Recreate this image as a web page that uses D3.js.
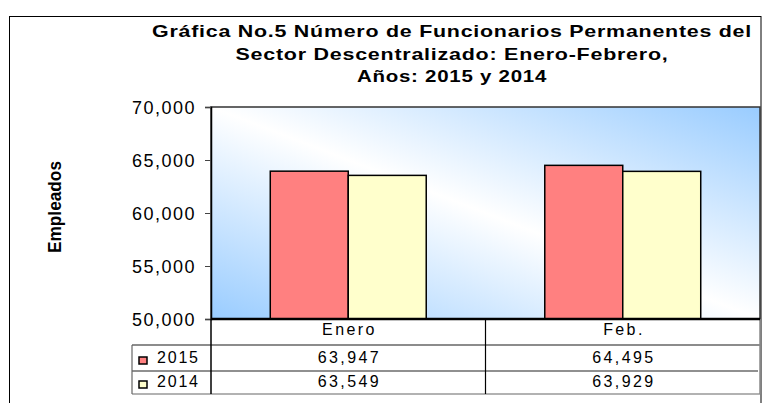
<!DOCTYPE html>
<html>
<head>
<meta charset="utf-8">
<script src="https://cdn.jsdelivr.net/npm/d3@7"></script>
<style>
  body { margin: 0; background: #fff; }
  text { font-family: Arial, "Liberation Sans", sans-serif; fill: #000; }
</style>
</head>
<body>
<div id="chart"></div>
<script>
// data
const categories = ["Enero", "Feb."]
const seriesNames = ["2015", "2014"]
const values2015 = [63947, 64495]
const values2014 = [63549, 63929]
const yTicks = [50000, 55000, 60000, 65000, 70000]
const titleLines = [
  "Gráfica No.5 Número de Funcionarios Permanentes del",
  "Sector Descentralizado: Enero-Febrero,",
  "Años: 2015 y 2014"
]
const yTitle = "Empleados"

const colors = { "2015": "#FF8080", "2014": "#FFFFCC" }

// plot box
const PLOT = { LEFT: 211, RIGHT: 760, TOP: 107, BOTTOM: 319 }
// table rows (header, 2015, 2014)
const ROW_Y = [319, 345, 371, 394]
const LEGEND_LEFT = 132

const svg = d3.select("#chart")
  .append("svg")
  .attr("width", 766)
  .attr("height", 403)

// outer chart frame
svg.append("rect")
  .attr("x", 9.5).attr("y", 16.5)
  .attr("width", 751.5).attr("height", 400)
  .attr("fill", "#fff")
  .attr("stroke", "#000")
  .attr("stroke-width", 1)

// title - excel draws it wide, so stretch glyphs a bit
const titleBox = [
  { y: 37, w: 600 },
  { y: 60, w: 433 },
  { y: 82, w: 190 }
]
titleLines.forEach((t, i) => {
  svg.append("text")
    .attr("x", 452 - titleBox[i].w / 2)
    .attr("y", titleBox[i].y)
    .attr("textLength", titleBox[i].w)
    .attr("lengthAdjust", "spacingAndGlyphs")
    .style("font-size", "17px")
    .style("font-weight", "bold")
    .style("letter-spacing", "0.6px")
    .text(t)
})

// background gradient of the plot area
const defs = svg.append("defs")
const grad = defs.append("linearGradient")
  .attr("id", "plotBg")
  .attr("x1", 0).attr("y1", 1)
  .attr("x2", 1).attr("y2", 0)
grad.append("stop").attr("offset", "0%").attr("stop-color", "#99CCFF")
grad.append("stop").attr("offset", "50%").attr("stop-color", "#FFFFFF")
grad.append("stop").attr("offset", "100%").attr("stop-color", "#99CCFF")

svg.append("rect")
  .attr("x", PLOT.LEFT).attr("y", PLOT.TOP)
  .attr("width", PLOT.RIGHT - PLOT.LEFT)
  .attr("height", PLOT.BOTTOM - PLOT.TOP)
  .attr("fill", "url(#plotBg)")
  .attr("stroke", "#333")
  .attr("stroke-width", 1.5)

// scales
const y = d3.scaleLinear()
  .domain([50000, 70000])
  .range([PLOT.BOTTOM, PLOT.TOP])

const x0 = d3.scaleBand()
  .domain(categories)
  .range([PLOT.LEFT, PLOT.RIGHT])

const x1 = d3.scaleBand()
  .domain(seriesNames)
  .range([0, x0.bandwidth()])
  .paddingOuter(0.76)

const series = [
  { name: "2015", values: values2015 },
  { name: "2014", values: values2014 }
]

// bars
series.forEach(s => {
  svg.append("g")
    .selectAll("rect")
    .data(s.values)
    .enter().append("rect")
    .attr("x", (d, i) => x0(categories[i]) + x1(s.name))
    .attr("y", d => y(d))
    .attr("width", x1.bandwidth())
    .attr("height", d => y(50000) - y(d))
    .attr("fill", colors[s.name])
    .attr("stroke", "#000")
    .attr("stroke-width", 1.5)
})

// y axis
const yAxisCall = d3.axisLeft(y)
  .tickValues(yTicks)
  .tickFormat(d3.format(","))
  .tickSize(6)
  .tickPadding(9)
const yAxis = svg.append("g")
  .attr("transform", "translate(" + PLOT.LEFT + ",0)")
  .call(yAxisCall)
yAxis.select(".domain").attr("stroke", "#000").attr("stroke-width", 1.5)
yAxis.selectAll(".tick line").attr("stroke", "#444")
yAxis.selectAll(".tick text")
  .attr("dy", "0.36em")
  .style("font-size", "18px")
  .style("font-family", "Arial, 'Liberation Sans', sans-serif")
  .style("letter-spacing", "1.5px")
  .attr("fill", "#000")

// y title
svg.append("text")
  .attr("transform", "translate(61,207) rotate(-90)")
  .attr("x", -46)
  .attr("y", 0)
  .attr("textLength", 92)
  .attr("lengthAdjust", "spacingAndGlyphs")
  .style("font-size", "19px")
  .style("font-weight", "bold")
  .text(yTitle)

// data table
const table = svg.append("g")
const line = (x1p, y1p, x2p, y2p, color, w) => table.append("line")
  .attr("x1", x1p).attr("y1", y1p).attr("x2", x2p).attr("y2", y2p)
  .attr("stroke", color).attr("stroke-width", w)

line(LEGEND_LEFT, ROW_Y[1], PLOT.RIGHT, ROW_Y[1], "#666", 1.5)
line(LEGEND_LEFT, ROW_Y[2], PLOT.RIGHT - 2, ROW_Y[2], "#222", 1.2)
line(LEGEND_LEFT, ROW_Y[3], PLOT.RIGHT, ROW_Y[3], "#666", 1.2)
line(LEGEND_LEFT, ROW_Y[1], LEGEND_LEFT, ROW_Y[3], "#666", 1.2)
line(PLOT.LEFT, ROW_Y[0], PLOT.LEFT, ROW_Y[3], "#000", 1.5)
line(x0("Feb."), ROW_Y[0], x0("Feb."), ROW_Y[3], "#000", 1.2)
line(PLOT.RIGHT, ROW_Y[0], PLOT.RIGHT, ROW_Y[3], "#888", 1.5)
// category axis line
line(PLOT.LEFT, PLOT.BOTTOM, PLOT.RIGHT, PLOT.BOTTOM, "#000", 2.5)

const cellText = (cx, cy, t) => table.append("text")
  .attr("x", cx + 1.2)
  .attr("y", cy)
  .attr("text-anchor", "middle")
  .style("font-size", "16px")
  .style("letter-spacing", "2.4px")
  .text(t)

categories.forEach(c => cellText(x0(c) + x0.bandwidth() / 2, 335, c))

const fmt = d3.format(",")
const rowBase = [363, 387]
series.forEach((s, r) => {
  s.values.forEach((v, i) => cellText(x0(categories[i]) + x0.bandwidth() / 2, rowBase[r], fmt(v)))
  // legend key
  table.append("rect")
    .attr("x", 139).attr("y", rowBase[r] - 6)
    .attr("width", 8).attr("height", 7)
    .attr("fill", colors[s.name])
    .attr("stroke", "#000")
    .attr("stroke-width", 1.5)
  table.append("text")
    .attr("x", 157)
    .attr("y", rowBase[r])
    .style("font-size", "16px")
    .style("letter-spacing", "1.8px")
    .text(s.name)
})
</script>
</body>
</html>
